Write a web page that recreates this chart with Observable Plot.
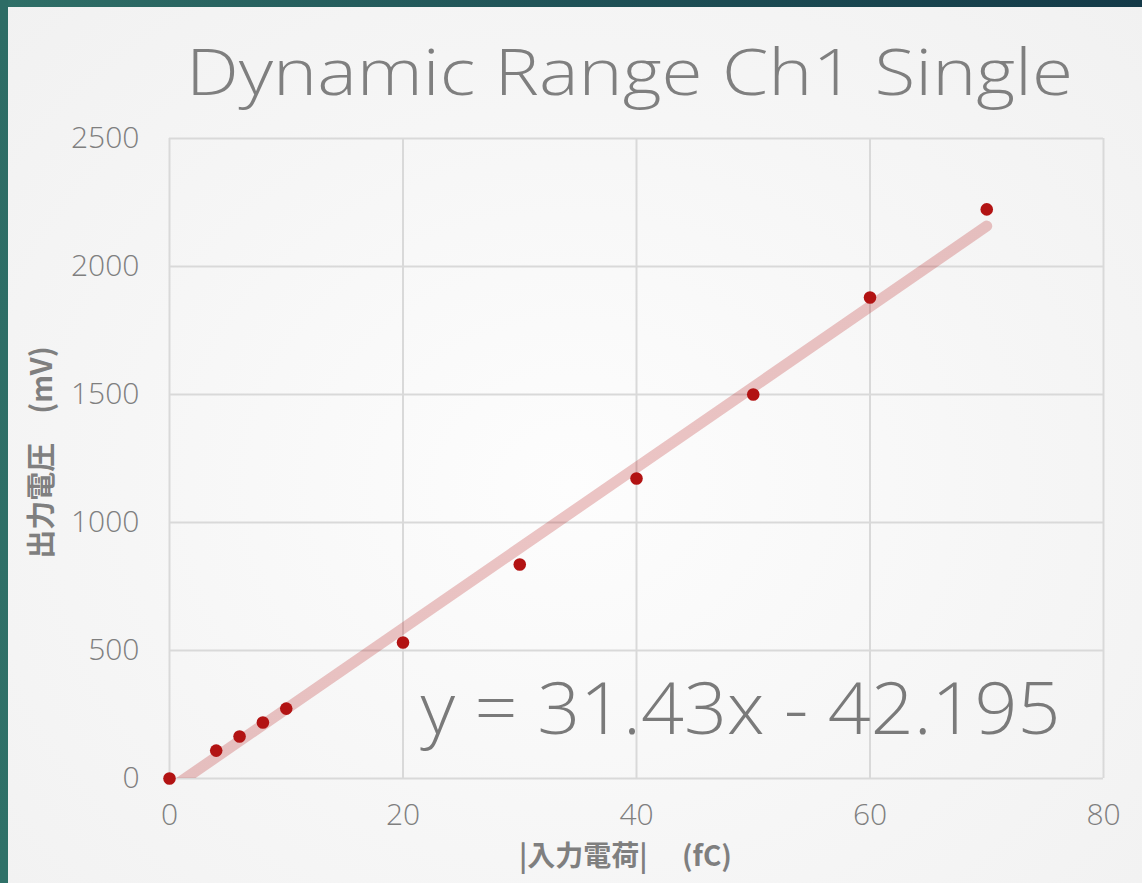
<!DOCTYPE html>
<html>
<head>
<meta charset="utf-8">
<script src="https://cdn.jsdelivr.net/npm/d3@7"></script>
<script src="https://cdn.jsdelivr.net/npm/@observablehq/plot@0.6"></script>
<style>
  html, body { margin: 0; padding: 0; }
  #page {
    position: relative; width: 1142px; height: 883px; overflow: hidden;
    background: radial-gradient(ellipse at 50% 55%, #fdfdfd 0%, #f6f6f6 55%, #f1f1f1 100%);
    font-family: "Open Sans", Lato, sans-serif;
  }
  #topbar { position: absolute; left: 0; top: 0; width: 1142px; height: 7px;
    background: linear-gradient(90deg, #2f6f67 0%, #1f5257 50%, #143a48 100%); }
  #leftbar { position: absolute; left: 0; top: 0; width: 8px; height: 883px;
    background: linear-gradient(180deg, #2d6c65 0%, #2f7168 100%); }
  #chart { position: absolute; left: 0; top: 0; }
</style>
</head>
<body>
<div id="page">
  <div id="topbar"></div>
  <div id="leftbar"></div>
  <div id="chart"></div>
</div>
<script>
// ---- data ----
const charge = [0, 4, 6, 8, 10, 20, 30, 40, 50, 60, 70];          // |入力電荷| (fC)
const voltage = [0, 109, 164, 219, 273, 531, 836, 1172, 1500, 1879, 2223]; // 出力電圧 (mV)
const xTicks = [0, 20, 40, 60, 80];
const yTicks = [0, 500, 1000, 1500, 2000, 2500];
const slope = 31.43, intercept = -42.195;    // trendline from the chart
const trendX = [0, 70];
const titleText = "Dynamic Range Ch1 Single";
const equationText = "y = 31.43x - 42.195";
const xLabel = "|入力電荷|\u3000 (fC)";
const yLabel = "出力電圧\u3000(mV)";

const points = charge.map((c, i) => ({x: c, y: voltage[i]}));
const trend = trendX.map(x => ({x, y: slope * x + intercept}));

const gray = "#7f7f7f";
const cjk = "'Noto Sans CJK JP', 'Noto Sans', sans-serif";
const chart = Plot.plot({
  width: 1142,
  height: 883,
  marginLeft: 169,
  marginRight: 39,
  marginTop: 138,
  marginBottom: 105,
  style: {background: "transparent", fontFamily: "'Open Sans', Lato, sans-serif", color: gray, overflow: "visible"},
  x: {domain: [0, 80], ticks: xTicks, tickSize: 0, tickPadding: 25, tickFormat: d3.format("d"), label: null, line: false},
  y: {domain: [0, 2500], ticks: yTicks, tickSize: 0, tickPadding: 30, tickFormat: d3.format("d"), label: null, line: false},
  marks: [
    Plot.ruleX(xTicks, {stroke: "#d9d9d9", strokeWidth: 2}),
    Plot.ruleY(yTicks, {stroke: "#d9d9d9", strokeWidth: 2}),
    Plot.line(trend, {x: "x", y: "y", stroke: "#b81a1a", strokeOpacity: 0.25, strokeWidth: 11, strokeLinecap: "round", clip: true}),
    Plot.dot(points, {x: "x", y: "y", r: 6.3, fill: "#b21313", stroke: "none"}),
    Plot.text([equationText], {frameAnchor: "bottom-right", text: d => d, textAnchor: "end", lineAnchor: "middle", dx: -43, dy: -68, fontSize: 72, fill: "#7a7a7a", fontWeight: 300}),
    Plot.text([titleText], {frameAnchor: "top", text: d => d, textAnchor: "middle", lineAnchor: "middle", dx: -7, dy: -64, fontSize: 64, fill: gray, fontWeight: 300}),
    Plot.text([xLabel], {frameAnchor: "bottom", text: d => d, textAnchor: "middle", lineAnchor: "middle", dx: -11, dy: 79, fontSize: 28, fontWeight: "bold", fill: gray, fontFamily: cjk}),
    Plot.text([yLabel], {frameAnchor: "left", text: d => d, textAnchor: "middle", lineAnchor: "middle", rotate: -90, dx: -127, dy: -6, fontSize: 29, fontWeight: "bold", fill: gray, fontFamily: cjk})
  ]
});

// tick label styling
chart.querySelectorAll("g[aria-label^='x-axis'], g[aria-label^='y-axis']").forEach(g => {
  g.setAttribute("font-size", "30");
  g.setAttribute("fill", gray);
  g.setAttribute("font-weight", "300");
});
// stretch title and equation to match reference widths
chart.querySelectorAll("text").forEach(t => {
  if (t.textContent === titleText) { t.setAttribute("textLength", "887"); t.setAttribute("lengthAdjust", "spacingAndGlyphs"); }
  if (t.textContent === equationText) { t.setAttribute("textLength", "640"); t.setAttribute("lengthAdjust", "spacingAndGlyphs"); }
});
document.getElementById("chart").appendChild(chart);
</script>
</body>
</html>
